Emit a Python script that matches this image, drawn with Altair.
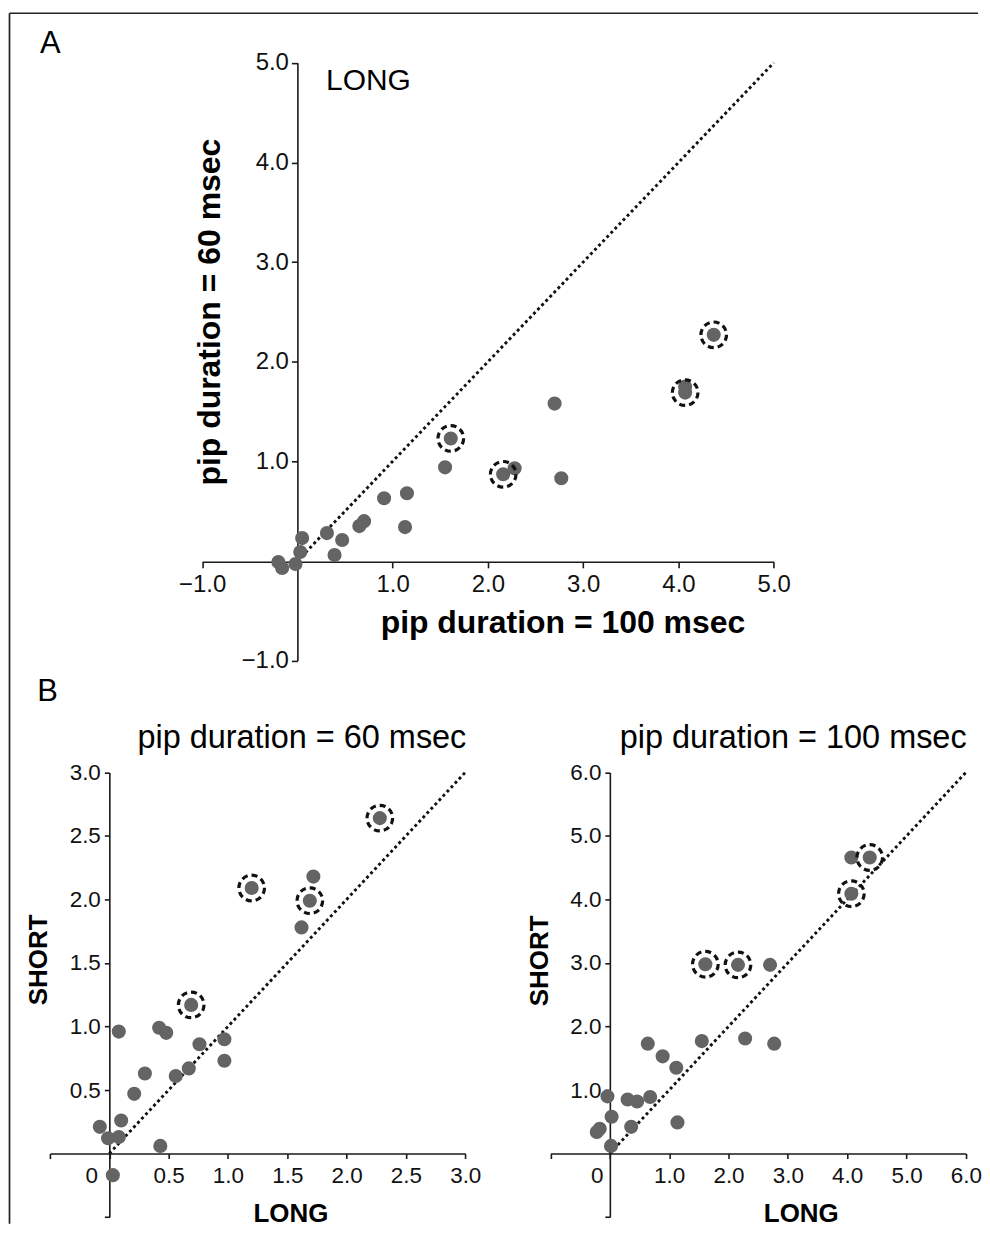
import altair as alt
import pandas as pd

# ---------------- data ----------------
# Panel A: LONG condition, pip 100 ms (x) vs pip 60 ms (y)
a_long100 = [-0.20, -0.16, -0.02, 0.03, 0.05, 0.31, 0.39, 0.47, 0.65, 0.70, 0.91,
             1.13, 1.15, 1.55, 1.61, 2.16, 2.28, 2.70, 2.77, 4.07, 4.07, 4.37]
a_long60 = [-0.01, -0.07, -0.03, 0.09, 0.23, 0.28, 0.06, 0.21, 0.35, 0.40, 0.63,
            0.34, 0.68, 0.94, 1.23, 0.87, 0.93, 1.58, 0.83, 1.75, 1.69, 2.27]
a_ring = [0, 0, 0, 0, 0, 0, 0, 0, 0, 0, 0, 0, 0, 0, 1, 1, 0, 0, 0, 0, 1, 1]
a_diag = [0.0, 5.0]
a_ticks = [-1.0, 1.0, 2.0, 3.0, 4.0, 5.0]

# Panel B left: pip 60 ms, LONG (x) vs SHORT (y)
b60_long = [-0.08, -0.01, 0.08, 0.10, 0.08, 0.03, 0.21, 0.30, 0.42, 0.48, 0.43,
            0.56, 0.67, 0.69, 0.76, 0.97, 0.97, 1.20, 1.62, 1.69, 1.72, 2.28]
b60_short = [0.21, 0.12, 0.13, 0.26, 0.96, -0.17, 0.47, 0.63, 0.99, 0.95, 0.06,
             0.61, 0.67, 1.17, 0.86, 0.90, 0.73, 2.09, 1.78, 1.99, 2.18, 2.64]
b60_ring = [0, 0, 0, 0, 0, 0, 0, 0, 0, 0, 0, 0, 0, 1, 0, 0, 0, 1, 0, 1, 0, 1]
b60_diag = [0.0, 3.0]
b60_xticks = [-0.5, 0.0, 0.5, 1.0, 1.5, 2.0, 2.5, 3.0]
b60_yticks = [-0.5, 0.5, 1.0, 1.5, 2.0, 2.5, 3.0]

# Panel B right: pip 100 ms, LONG (x) vs SHORT (y)
b100_long = [-0.22, -0.17, 0.02, -0.04, 0.03, 0.30, 0.36, 0.46, 0.64, 0.68, 0.89,
             1.12, 1.14, 1.55, 1.61, 2.16, 2.28, 2.70, 2.77, 4.07, 4.07, 4.38]
b100_short = [0.34, 0.39, 0.12, 0.90, 0.58, 0.85, 0.42, 0.82, 1.73, 0.89, 1.53,
              1.35, 0.49, 1.77, 2.98, 2.97, 1.81, 2.97, 1.73, 4.66, 4.09, 4.66]
b100_ring = [0, 0, 0, 0, 0, 0, 0, 0, 0, 0, 0, 0, 0, 0, 1, 1, 0, 0, 0, 0, 1, 1]
b100_diag = [0.0, 6.0]
b100_xticks = [-1.0, 0.0, 1.0, 2.0, 3.0, 4.0, 5.0, 6.0]
b100_yticks = [-1.0, 1.0, 2.0, 3.0, 4.0, 5.0, 6.0]

# ---------------- layout helpers (pixel placement) ----------------
FONT = "Liberation Sans"
KX = 0.9965
W = 972
H = 1212


def vx(x):
    return (x - 11) * KX + 1.5


def vy(y):
    return y - 8


DOT = "#646464"
INK = "#1a1a1a"


def axis(orient, values, label_expr, offset, title, tx, ty, angle, tick, lfs, tfs, pad,
         zero_shift=None):
    kw = dict(orient=orient, values=values, labelExpr=label_expr, offset=offset,
              title=title, titleX=tx, titleY=ty, titleAngle=angle, titleAlign="center",
              titleBaseline="alphabetic", titleFontWeight="bold",
              titleFontSize=tfs, titleColor="#000", titleFont=FONT,
              tickSize=tick, labelFontSize=lfs, labelPadding=pad,
              labelFlush=False, labelOverlap=False, labelBound=False,
              labelFont=FONT, labelColor="#111", grid=False,
              domainColor=INK, domainWidth=1.6, tickColor=INK, tickWidth=1.6)
    if zero_shift is not None:
        kw["labelOffset"] = {"condition": {"test": "datum.value === 0", "value": zero_shift},
                             "value": 0}
    return alt.Axis(**kw)


def panel(xs, ys, ring, diag, xdom, ydom, xpx, ypx, xaxis, yaxis):
    df = pd.DataFrame({"x": xs, "y": ys, "ring": ring})
    dd = pd.DataFrame({"x": diag, "y": diag})
    xsc = alt.Scale(domain=xdom, range=[vx(xpx[0]), vx(xpx[1])], nice=False, zero=False)
    ysc = alt.Scale(domain=ydom, range=[vy(ypx[0]), vy(ypx[1])], nice=False, zero=False)
    X = alt.X("x:Q", scale=xsc, axis=xaxis)
    Y = alt.Y("y:Q", scale=ysc, axis=yaxis)
    line = alt.Chart(dd).mark_line(color="#111", strokeWidth=2.9,
                                   strokeDash=[2.9, 3.0]).encode(x=X, y=Y)
    dots = alt.Chart(df).mark_circle(size=200, color=DOT, opacity=1).encode(x=X, y=Y)
    rings = alt.Chart(df).transform_filter("datum.ring == 1").mark_point(
        shape="circle", filled=False, size=660, color="#111", opacity=1,
        strokeWidth=3.2, strokeDash=[6, 4]).encode(x=X, y=Y)
    return alt.layer(line, dots, rings)


lab_a = "datum.value < 0 ? '\u2212' + format(-datum.value, '.1f') : format(datum.value, '.1f')"
lab_bx = "datum.value < 0 ? '' : (datum.value == 0 ? '0' : format(datum.value, '.1f'))"
lab_by = "datum.value < 0 ? '' : format(datum.value, '.1f')"

# ---- Panel A ----
ax0, ay0 = 300.5, 561.7
A = panel(
    a_long100, a_long60, a_ring, a_diag, [-1, 5], [-1, 5],
    [204.7, 779.5], [660.7, 61.7],
    axis("bottom", a_ticks, lab_a, vy(ay0) - H, "pip duration = 100 msec",
         vx(567), vy(633) - vy(ay0), 0, 6, 24, 32, 5),
    axis("left", a_ticks, lab_a, -vx(ax0), "pip duration = 60 msec",
         vx(221.7) - vx(ax0), vy(311), 270, 6, 24, 32, 3),
)

# ---- Panel B left ----
bl0x, b0y = 111.4, 1154.6
BL = panel(
    b60_long, b60_short, b60_ring, b60_diag, [-0.5, 3], [-0.5, 3],
    [51.7, 469.3], [1218.3, 772.7],
    axis("bottom", b60_xticks, lab_bx, vy(b0y) - H, "LONG",
         vx(293.5), vy(1223) - vy(b0y), 0, 5, 22.5, 26, 6, zero_shift=-18),
    axis("left", b60_yticks, lab_by, -vx(bl0x), "SHORT",
         vx(48.3) - vx(bl0x), vy(960), 270, 5, 22.5, 26, 4),
)

# ---- Panel B right ----
br0x = 614.7
BR = panel(
    b100_long, b100_short, b100_ring, b100_diag, [-1, 6], [-1, 6],
    [555.0, 972.7], [1218.3, 772.7],
    axis("bottom", b100_xticks, lab_bx, vy(b0y) - H, "LONG",
         vx(806.7), vy(1223) - vy(b0y), 0, 5, 22.5, 26, 6, zero_shift=-13),
    axis("left", b100_yticks, lab_by, -vx(br0x), "SHORT",
         vx(551.7) - vx(br0x), vy(961), 270, 5, 22.5, 26, 4),
)


def label(text, x, y, size, weight="normal", align="left"):
    return alt.Chart(pd.DataFrame({"t": [text]})).mark_text(
        align=align, baseline="alphabetic", fontSize=size, fontWeight=weight,
        font=FONT, color="#000").encode(text="t:N", x=alt.value(vx(x)), y=alt.value(vy(y)))


texts = [
    label("A", 41.7, 51.7, 31),
    label("B", 39.0, 701.0, 31),
    label("LONG", 329.3, 89.3, 30),
    label("pip duration = 60 msec", 305.0, 748.0, 32.5, align="center"),
    label("pip duration = 100 msec", 799.0, 748.0, 32.5, align="center"),
]

frame = pd.DataFrame({"k": [0]})
top_line = alt.Chart(frame).mark_rule(color="#222", strokeWidth=1.7).encode(
    x=alt.value(vx(11)), x2=alt.value(W), y=alt.value(vy(12)))
left_line = alt.Chart(frame).mark_rule(color="#222", strokeWidth=1.7).encode(
    x=alt.value(vx(11)), y=alt.value(vy(12)), y2=alt.value(H + 5))

chart = alt.layer(top_line, left_line, A, BL, BR, *texts).resolve_scale(
    x="independent", y="independent"
).properties(width=W, height=H, padding=0).configure_view(stroke=None)

chart.save("out.html", embed_options={"renderer": "svg", "actions": False})
